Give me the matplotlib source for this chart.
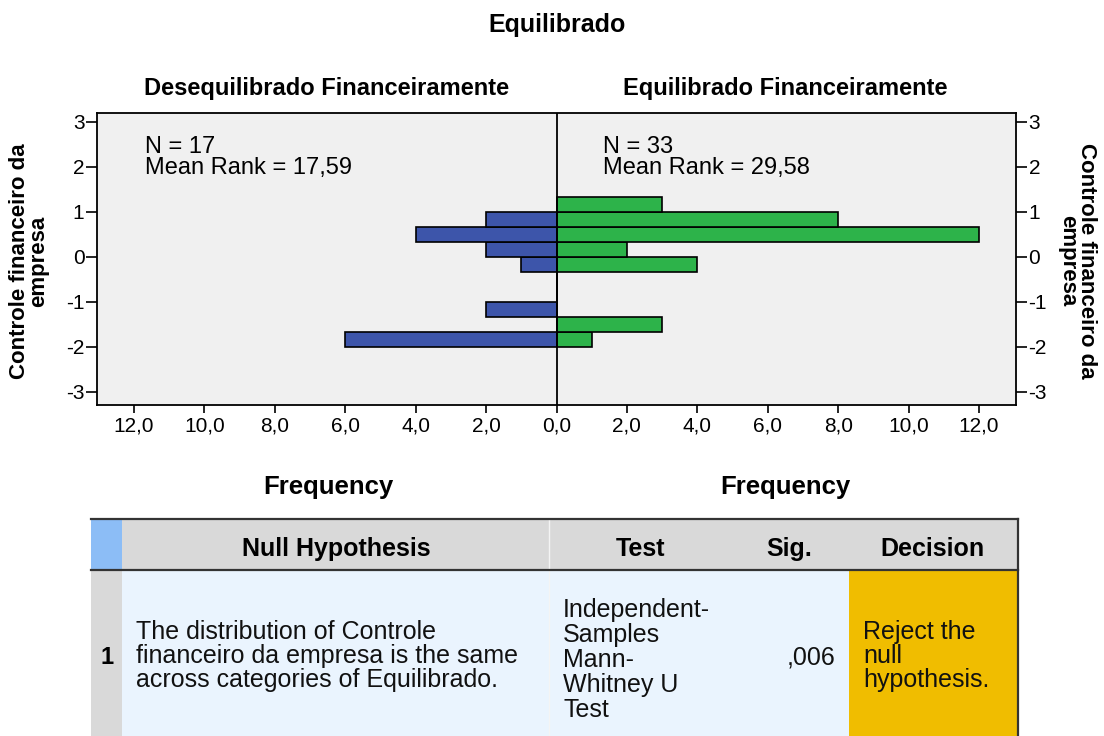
import numpy as np
import matplotlib
matplotlib.use("Agg")
import matplotlib.pyplot as plt
from matplotlib.patches import Rectangle

plt.rcParams['font.family'] = ['Liberation Sans', 'DejaVu Sans']

# bins of the histogram (lower edge, width 1/3)
bin_low = [-2, -5/3, -4/3, -1, -2/3, -1/3, 0, 1/3, 2/3, 1]
bin_h = 1/3
freq_deseq = [6, 0, 2, 0, 0, 1, 2, 4, 2, 0]
freq_equil = [1, 3, 0, 0, 0, 4, 2, 12, 8, 3]

n_deseq, rank_deseq = 17, "17,59"
n_equil, rank_equil = 33, "29,58"

x_ticks = [-12, -10, -8, -6, -4, -2, 0, 2, 4, 6, 8, 10, 12]
y_ticks = [-3, -2, -1, 0, 1, 2, 3]

W, H = 1104, 736
fig = plt.figure(figsize=(W / 100, H / 100), dpi=100)

# 1 piramide
ax = fig.add_axes([97 / W, 1 - 405 / H, (1016 - 97) / W, (405 - 113) / H])
ax.set_facecolor('#f0f0f0')
ax.barh(bin_low, [-v for v in freq_deseq], height=bin_h, align='edge',
        color='#3d55aa', edgecolor='black', linewidth=1.2)
ax.barh(bin_low, freq_equil, height=bin_h, align='edge',
        color='#2db34a', edgecolor='black', linewidth=1.2)
ax.axvline(0, color='black', lw=1.3)
ax.set_xlim(-13.05, 13.05)
ax.set_ylim(-3.29, 3.2)
ax.set_xticks(x_ticks)
ax.set_xticklabels([f"{abs(v):.1f}".replace('.', ',') for v in x_ticks])
ax.set_yticks(y_ticks)
ax.set_yticklabels([str(v) for v in y_ticks])
ax.tick_params(axis='x', direction='out', length=5.5, width=1.2, labelsize=15, pad=3)
ax.tick_params(axis='y', direction='out', length=8, width=1.2, labelsize=15, pad=1,
               right=True, labelright=True)
for s in ax.spines.values():
    s.set_linewidth(1.3)

ax.text(0.052, 0.92, f"N = {n_deseq}\nMean Rank = {rank_deseq}", transform=ax.transAxes,
        va='top', ha='left', fontsize=17, linespacing=0.9)
ax.text(0.5505, 0.92, f"N = {n_equil}\nMean Rank = {rank_equil}", transform=ax.transAxes,
        va='top', ha='left', fontsize=17, linespacing=0.9)

# titulos e rotulos
fig.text(557 / W, 1 - 25 / H, "Equilibrado", ha='center', va='center',
         fontsize=18, fontweight='bold')
fig.text(327 / W, 1 - 88 / H, "Desequilibrado Financeiramente", ha='center', va='center',
         fontsize=17, fontweight='bold')
fig.text(785 / W, 1 - 88 / H, "Equilibrado Financeiramente", ha='center', va='center',
         fontsize=17, fontweight='bold')
fig.text(328 / W, 1 - 487 / H, "Frequency", ha='center', va='center',
         fontsize=18.5, fontweight='bold')
fig.text(785 / W, 1 - 487 / H, "Frequency", ha='center', va='center',
         fontsize=18.5, fontweight='bold')
fig.text(29 / W, 1 - 261 / H, "Controle financeiro da\nempresa", ha='center', va='center',
         rotation=90, fontsize=16, fontweight='bold', linespacing=0.85)
fig.text(1077 / W, 1 - 261 / H, "Controle financeiro da\nempresa", ha='center', va='center',
         rotation=270, fontsize=16, fontweight='bold', linespacing=0.85)

# 2 tabela do teste
tb = fig.add_axes([0, 0, 1, 1])
tb.set_xlim(0, W)
tb.set_ylim(H, 0)
tb.axis('off')

cells = [
    (91, 519, 31, 51, '#8cbdf6'),
    (122, 519, 896, 51, '#d9d9d9'),
    (91, 570, 31, 170, '#d9d9d9'),
    (122, 570, 727, 170, '#eaf4fe'),
    (849, 570, 169, 170, '#f0bd00'),
]
for x0, y0, w, h, c in cells:
    tb.add_patch(Rectangle((x0, y0), w, h, facecolor=c, edgecolor='none'))
tb.plot([549, 549], [519, 740], color='#f4f4f4', lw=1)
tb.plot([91, 1018], [519, 519], color='#333333', lw=1.6)
tb.plot([91, 1018], [570, 570], color='#333333', lw=1.6)
tb.plot([1018, 1018], [519, 740], color='#333333', lw=1.6)

head = [("Null Hypothesis", 336), ("Test", 640), ("Sig.", 789), ("Decision", 932)]
for txt, xc in head:
    tb.text(xc, 556, txt, ha='center', va='baseline', fontsize=18, fontweight='bold')

tb.text(107, 658, "1", ha='center', va='center', fontsize=17, fontweight='bold')
tb.text(136, 656, "The distribution of Controle\nfinanceiro da empresa is the same\n"
        "across categories of Equilibrado.", ha='left', va='center', fontsize=18,
        linespacing=0.98, color='#111111')
tb.text(563, 660, "Independent-\nSamples\nMann-\nWhitney U\nTest", ha='left', va='center',
        fontsize=18, linespacing=1.05, color='#111111')
tb.text(835, 657, ",006", ha='right', va='center', fontsize=18, color='#111111')
tb.text(863, 656, "Reject the\nnull\nhypothesis.", ha='left', va='center', fontsize=18,
        linespacing=0.98, color='#111111')

fig.savefig("out.png", dpi=100)
